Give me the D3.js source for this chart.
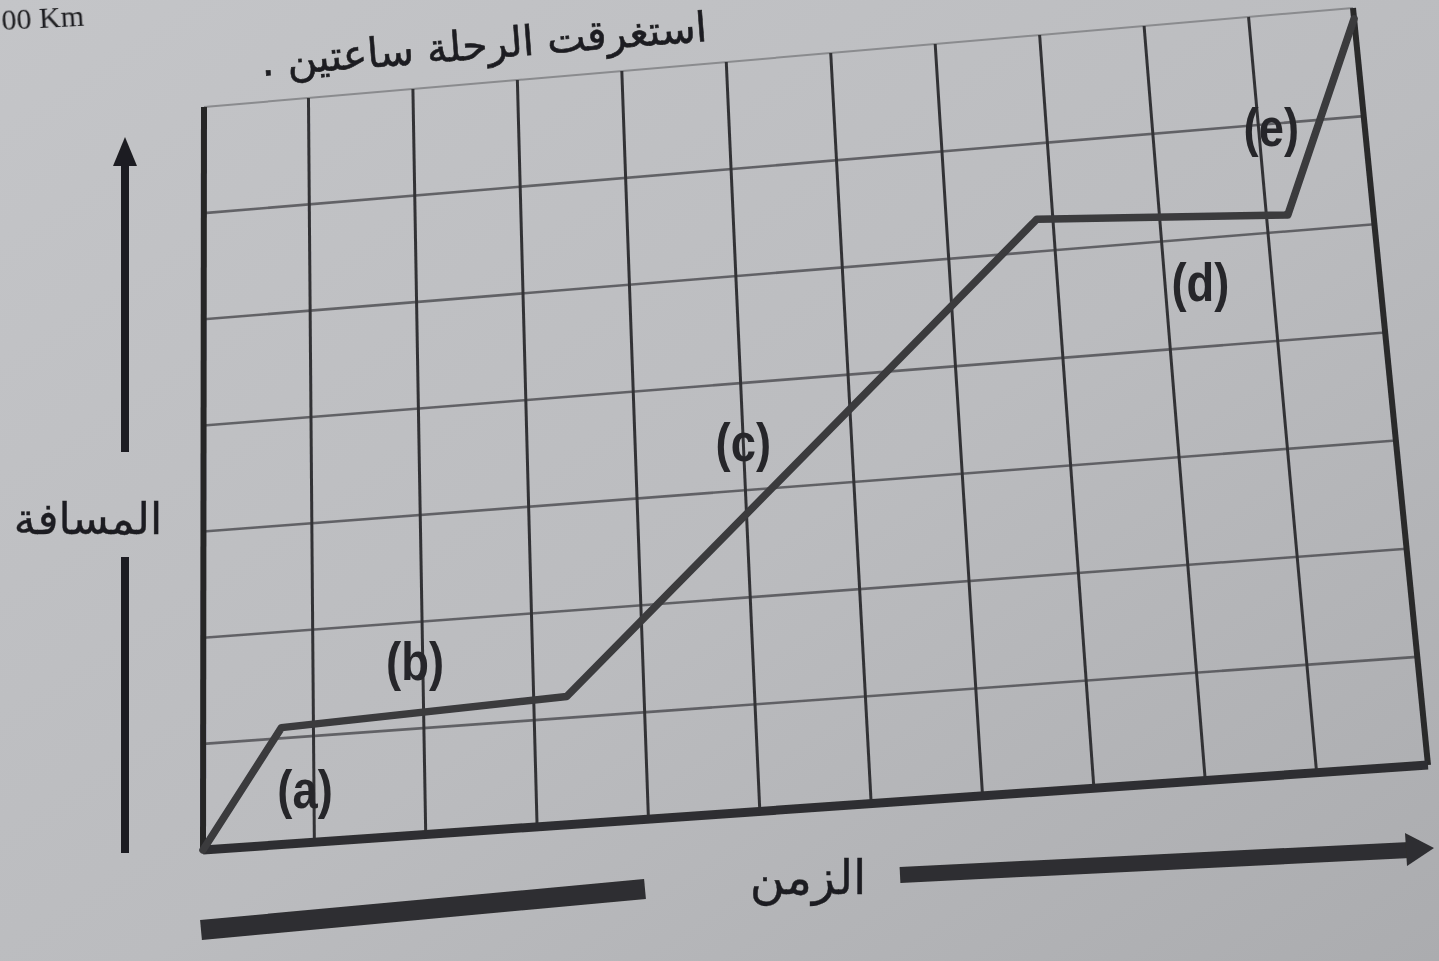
<!DOCTYPE html>
<html>
<head>
<meta charset="utf-8">
<script src="https://cdn.jsdelivr.net/npm/d3@7"></script>
<style>
  html, body { margin: 0; padding: 0; overflow: hidden; background: #bcbdc0; }
  svg { display: block; }
</style>
</head>
<body>
<svg id="chart" width="1439" height="961"></svg>
<script>
// ---------- data ----------
const timeTicks = [0, 1, 2, 3, 4, 5, 6, 7, 8, 9, 10, 11];
const distanceTicks = [0, 1, 2, 3, 4, 5, 6, 7];
const timeValues = [0, 0.71, 3.3, 7.85, 10.2, 11];
const distanceValues = [0, 1.1, 1.2, 5.3, 5.15, 6.9];
const segmentLabels = ["(a)", "(b)", "(c)", "(d)", "(e)"];
const labelTime = [0.92, 1.93, 5.0, 9.33, 10.12];
const labelDistance = [0.5, 1.63, 3.44, 4.59, 5.96];
const yAxisTitle = "المسافة";
const xAxisTitle = "الزمن";
const captionText = "استغرقت الرحلة ساعتين .";
const cornerText = "00 Km";

// ---------- layout (photographed sheet, slightly in perspective) ----------
const W = 1439, H = 961;
const BL = [203, 850], BR = [1428, 765], TL = [204, 107], TR = [1353, 8];

const xScale = d3.scaleLinear().domain([0, 11]).range([0, 1]);
const yScale = d3.scaleLinear().domain([0, 7]).range([0, 1]);
const lerp = (a, b, t) => [a[0] + (b[0] - a[0]) * t, a[1] + (b[1] - a[1]) * t];
function P(x, y) {
  const u = xScale(x), v = yScale(y);
  return lerp(lerp(BL, BR, u), lerp(TL, TR, u), v);
}

const svg = d3.select("#chart");
const defs = svg.append("defs");
const grad = defs.append("linearGradient").attr("id", "paper")
  .attr("x1", "0").attr("y1", "0").attr("x2", "1").attr("y2", "1");
grad.append("stop").attr("offset", "0").attr("stop-color", "#c4c5c8");
grad.append("stop").attr("offset", "0.55").attr("stop-color", "#bbbcbf");
grad.append("stop").attr("offset", "1").attr("stop-color", "#abacaf");
const blur = defs.append("filter").attr("id", "soft");
blur.append("feGaussianBlur").attr("stdDeviation", 0.7);

svg.append("rect").attr("width", W).attr("height", H).attr("fill", "url(#paper)");

const g = svg.append("g").attr("filter", "url(#soft)");
const ink = "#1f1f21";

// ---------- top caption ----------
g.append("text")
  .attr("transform", "translate(262,76) rotate(-4.5)")
  .attr("direction", "rtl")
  .attr("text-anchor", "end")
  .attr("font-family", "'DejaVu Sans', sans-serif")
  .attr("font-size", 41)
  .attr("fill", ink).attr("stroke", ink).attr("stroke-width", 0.6)
  .text(captionText);
g.append("text")
  .attr("transform", "translate(2,30) rotate(-3)")
  .attr("text-anchor", "start")
  .attr("font-family", "'Liberation Serif', serif")
  .attr("font-size", 30)
  .attr("fill", ink)
  .text(cornerText);

// ---------- grid ----------
const line = d3.line().x(d => d[0]).y(d => d[1]);
const gridG = g.append("g");
gridG.selectAll("path.h").data(distanceTicks.slice(1, -1)).join("path")
  .attr("class", "h")
  .attr("d", d => line([P(0, d), P(11, d)]))
  .attr("stroke", "#4b4b4f").attr("stroke-width", 2.6).attr("fill", "none")
  .attr("opacity", 0.8);
gridG.append("path")
  .attr("d", line([P(0, 7), P(11, 7)]))
  .attr("stroke", "#8a8b8e").attr("stroke-width", 2).attr("fill", "none");
gridG.selectAll("path.v").data(timeTicks.slice(1, -1)).join("path")
  .attr("class", "v")
  .attr("d", d => line([P(d, 0), P(d, 7)]))
  .attr("stroke", "#333336").attr("stroke-width", 3).attr("fill", "none");

// frame
g.append("path").attr("d", line([P(0, 0), P(0, 7)]))
  .attr("stroke", "#262628").attr("stroke-width", 6).attr("fill", "none");
g.append("path").attr("d", line([P(11, 0), P(11, 7)]))
  .attr("stroke", "#2a2a2c").attr("stroke-width", 6).attr("fill", "none");
g.append("path").attr("d", line([P(0, 0), P(11, 0)]))
  .attr("stroke", "#2e2e30").attr("stroke-width", 9).attr("fill", "none");

// ---------- data line ----------
const pts = timeValues.map((t, i) => P(t, distanceValues[i]));
g.append("path").attr("d", line(pts))
  .attr("stroke", "#3a3a3d").attr("stroke-width", 7.5)
  .attr("stroke-linejoin", "round").attr("stroke-linecap", "round")
  .attr("fill", "none");

// segment labels
g.selectAll("text.seg").data(segmentLabels).join("text")
  .attr("class", "seg")
  .attr("transform", (d, i) => {
    const p = P(labelTime[i], labelDistance[i]);
    return `translate(${p[0]},${p[1] + 18}) scale(0.84,1)`;
  })
  .attr("text-anchor", "middle")
  .attr("font-family", "'Liberation Sans', Arial, sans-serif")
  .attr("font-weight", "bold")
  .attr("font-size", 54)
  .attr("fill", "#28282a")
  .text(d => d);

// ---------- axis titles & arrows ----------
// vertical arrow
g.append("line").attr("x1", 125).attr("y1", 452).attr("x2", 125).attr("y2", 158)
  .attr("stroke", ink).attr("stroke-width", 8);
g.append("path").attr("d", "M125,137 L137,166 L113,166 Z").attr("fill", ink);
g.append("line").attr("x1", 125).attr("y1", 557).attr("x2", 125).attr("y2", 853)
  .attr("stroke", ink).attr("stroke-width", 8);
g.append("text")
  .attr("x", 88).attr("y", 534)
  .attr("text-anchor", "middle")
  .attr("font-family", "'DejaVu Sans', sans-serif")
  .attr("font-size", 44)
  .attr("fill", ink).attr("stroke", ink).attr("stroke-width", 0.4)
  .text(yAxisTitle);

// horizontal bars and arrow
g.append("line").attr("x1", 201).attr("y1", 930).attr("x2", 645).attr("y2", 889)
  .attr("stroke", "#2e2e30").attr("stroke-width", 20);
g.append("line").attr("x1", 900).attr("y1", 875).attr("x2", 1410).attr("y2", 850)
  .attr("stroke", "#2e2e30").attr("stroke-width", 16);
g.append("path").attr("d", "M1434,848 L1405,833 L1407,866 Z").attr("fill", "#2e2e30");
g.append("text")
  .attr("x", 808).attr("y", 894)
  .attr("text-anchor", "middle")
  .attr("font-family", "'DejaVu Sans', sans-serif")
  .attr("font-size", 48)
  .attr("fill", ink).attr("stroke", ink).attr("stroke-width", 0.4)
  .text(xAxisTitle);
</script>
</body>
</html>
